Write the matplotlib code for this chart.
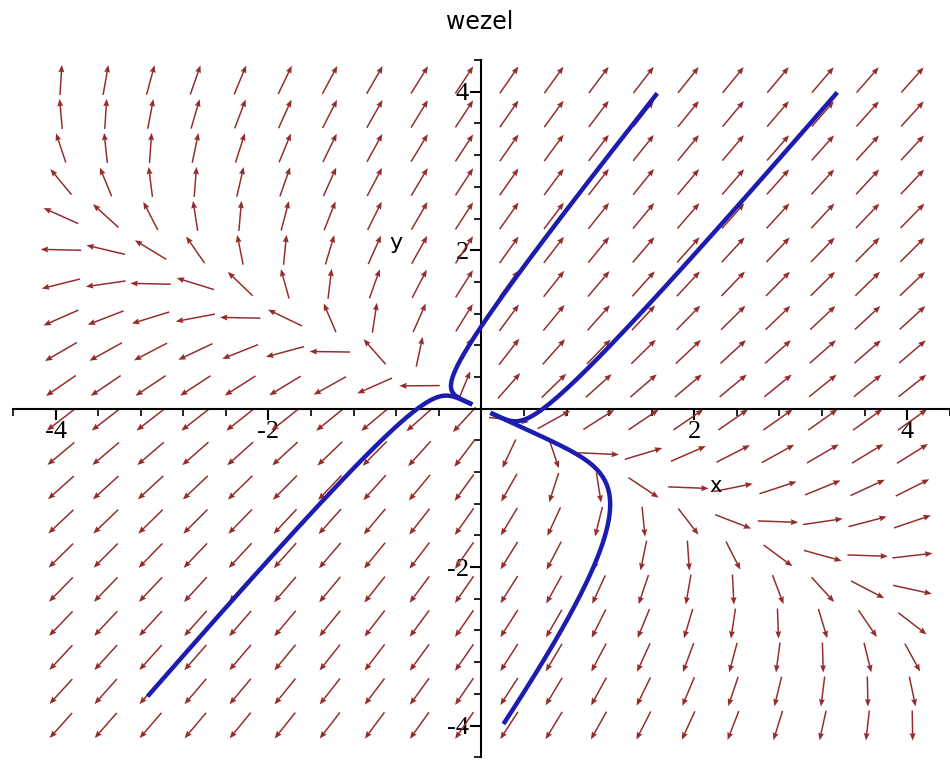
import numpy as np
import matplotlib
matplotlib.use("Agg")
import matplotlib.pyplot as plt

# linear system  x' = a*x + b*y ,  y' = c*x + d*y
sys_a, sys_b = 1.0, 1.0
sys_c, sys_d = 1.0, 2.0

# direction field grid
grid_x = np.linspace(-3.95, 4.05, 20)
grid_y = np.linspace(-4.0, 4.15, 20)

# solution curves: a point on each curve and where it stops (y value)
start_x = [0.0, -0.6, 0.58, 1.21]
start_y = [1.04, 0.0, 0.0, -1.21]
stop_y = [4.0, -3.66, 4.0, -4.0]

x_ticks = [-4, -2, 2, 4]
y_ticks = [-4, -2, 2, 4]


def field(p):
    return np.array([sys_a * p[0] + sys_b * p[1], sys_c * p[0] + sys_d * p[1]])


def rk4(p, dt, n, ystop=None, rmin=None):
    pts = [p]
    for _ in range(n):
        k1 = field(p)
        k2 = field(p + dt / 2 * k1)
        k3 = field(p + dt / 2 * k2)
        k4 = field(p + dt * k3)
        p = p + dt / 6 * (k1 + 2 * k2 + 2 * k3 + k4)
        if ystop is not None and abs(p[1]) > abs(ystop):
            break
        if rmin is not None and np.hypot(p[0], p[1]) < rmin:
            break
        pts.append(p)
    return np.array(pts)


fig = plt.figure(figsize=(9.5, 7.61), dpi=100)
ax = fig.add_axes([0.0137, 0.005, 0.986, 0.916])
ax.set_xlim(-4.38, 4.33)
ax.set_ylim(-4.3, 4.36)

# arrows
X, Y = np.meshgrid(grid_x, grid_y)
U = sys_a * X + sys_b * Y
V = sys_c * X + sys_d * Y
L = np.hypot(U, V)
L[L == 0] = 1
arr_len = 0.38
U = U / L * arr_len
V = V / L * arr_len
ax.quiver(X, Y, U, V, angles='xy', scale_units='xy', scale=1, pivot='mid',
          color='#942c2c', width=0.0016, headwidth=4, headlength=5,
          headaxislength=4.5, zorder=2)

# solution curves
for sx, sy, ys in zip(start_x, start_y, stop_y):
    p0 = np.array([sx, sy])
    back = rk4(p0, -0.005, 3000, rmin=0.1)
    fwd = rk4(p0, 0.005, 2000, ystop=ys)
    pts = np.vstack([back[::-1], fwd[1:]])
    ax.plot(pts[:, 0], pts[:, 1], color='#1c1cb0', lw=3.2,
            solid_capstyle='butt', zorder=3)

# Maple style axes through the origin
for s in ['top', 'right']:
    ax.spines[s].set_visible(False)
ax.spines['left'].set_position(('data', 0))
ax.spines['bottom'].set_position(('data', 0))
ax.spines['left'].set_linewidth(1.5)
ax.spines['bottom'].set_linewidth(1.5)
ax.set_xticks(x_ticks)
ax.set_yticks(y_ticks)
ax.set_xticklabels([str(t) for t in x_ticks])
ax.set_yticklabels([str(t) for t in y_ticks])
ax.set_xticks(np.arange(-4.4, 4.41, 0.4), minor=True)
ax.set_yticks(np.arange(-4.4, 4.41, 0.4), minor=True)
ax.tick_params(which='major', direction='out', length=8, width=1.5,
               labelsize=19, pad=1)
ax.tick_params(which='minor', direction='out', length=5, width=1.2)
for lab in ax.get_xticklabels() + ax.get_yticklabels():
    lab.set_family('Liberation Serif')
ax.patch.set_visible(False)

ax.text(2.2, -0.98, 'x', fontsize=15, ha='center', va='center')
ax.text(-0.8, 2.09, 'y', fontsize=16, ha='center', va='center')
fig.text(0.505, 0.971, 'wezel', fontsize=17, ha='center', va='center')

fig.savefig('out.png', dpi=100)
